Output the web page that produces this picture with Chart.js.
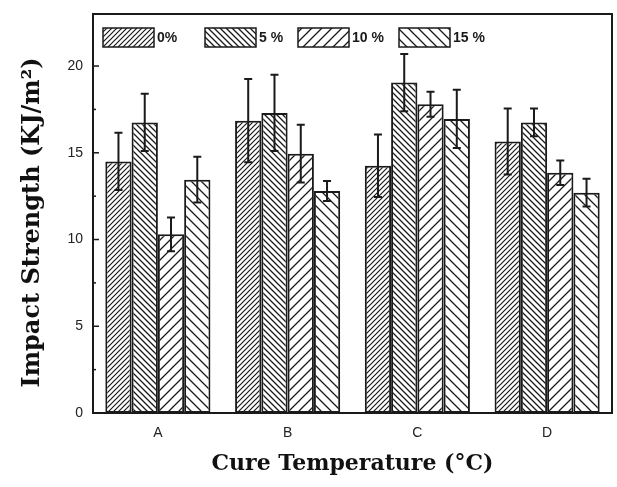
<!DOCTYPE html>
<html>
<head>
<meta charset="utf-8">
<script src="https://cdn.jsdelivr.net/npm/chart.js@4/dist/chart.umd.min.js"></script>
<style>
html,body{margin:0;padding:0;background:#fff;}
canvas{display:block;}
</style>
</head>
<body>
<canvas id="c" width="617" height="487"></canvas>
<script>
// ---- data ----
const categories = ['A', 'B', 'C', 'D'];
const seriesLabels = ['0%', '5 %', '10 %', '15 %'];
const values0  = [14.5, 16.85, 14.25, 15.65];
const values5  = [16.75, 17.3, 19.05, 16.75];
const values10 = [10.3, 14.95, 17.8, 13.85];
const values15 = [13.45, 12.8, 16.95, 12.7];
const err0  = [1.65, 2.4, 1.8, 1.9];
const err5  = [1.65, 2.2, 1.65, 0.8];
const err10 = [0.97, 1.67, 0.72, 0.7];
const err15 = [1.32, 0.58, 1.68, 0.8];
const yTicksMajor = [0, 5, 10, 15, 20];
const yTitle = 'Impact Strength (KJ/m²)';
const xTitle = 'Cure Temperature (°C)';

const seriesValues = [values0, values5, values10, values15];
const seriesErrors = [err0, err5, err10, err15];

function hatch(step, dir, lw) {
  const c = document.createElement('canvas');
  c.width = c.height = step;
  const x = c.getContext('2d');
  x.fillStyle = '#fff';
  x.fillRect(0, 0, step, step);
  x.strokeStyle = '#1a1a1a';
  x.lineWidth = lw;
  x.beginPath();
  if (dir === '/') {
    x.moveTo(0, step); x.lineTo(step, 0);
    x.moveTo(-2, 2); x.lineTo(2, -2);
    x.moveTo(step - 2, step + 2); x.lineTo(step + 2, step - 2);
  } else {
    x.moveTo(0, 0); x.lineTo(step, step);
    x.moveTo(-2, step - 2); x.lineTo(2, step + 2);
    x.moveTo(step - 2, -2); x.lineTo(step + 2, 2);
  }
  x.stroke();
  return document.getElementById('c').getContext('2d').createPattern(c, 'repeat');
}
const patterns = [hatch(5, '/', 1.2), hatch(6, '\\', 1.3), hatch(10, '/', 1.3), hatch(10, '\\', 1.3)];

const errorBars = {
  id: 'errorBars',
  afterDatasetsDraw(chart) {
    const ctx = chart.ctx, ys = chart.scales.y;
    ctx.save();
    ctx.strokeStyle = '#1a1a1a';
    ctx.lineWidth = 2;
    chart.data.datasets.forEach((ds, di) => {
      const meta = chart.getDatasetMeta(di);
      meta.data.forEach((bar, i) => {
        const v = ds.data[i], e = seriesErrors[di][i];
        const yt = ys.getPixelForValue(v + e), yb = ys.getPixelForValue(v - e);
        const x = bar.x;
        ctx.beginPath();
        ctx.moveTo(x, yt); ctx.lineTo(x, yb);
        ctx.moveTo(x - 4, yt); ctx.lineTo(x + 4, yt);
        ctx.moveTo(x - 4, yb); ctx.lineTo(x + 4, yb);
        ctx.stroke();
      });
    });
    ctx.restore();
  }
};

const legendOffsets = [10, 112, 205, 306];

const frame = {
  id: 'frame',
  afterDraw(chart) {
    const ctx = chart.ctx, a = chart.chartArea, ys = chart.scales.y;
    ctx.save();
    ctx.strokeStyle = '#1a1a1a';
    ctx.lineWidth = 2;
    ctx.strokeRect(a.left, a.top, a.right - a.left, a.bottom - a.top);
    // inward ticks
    ctx.lineWidth = 1.5;
    ys.ticks.forEach(t => {
      if (Math.abs(t.value / 2.5 - Math.round(t.value / 2.5)) > 1e-6) return;
      const y = ys.getPixelForValue(t.value);
      const len = yTicksMajor.includes(t.value) ? 6 : 3;
      ctx.beginPath();
      ctx.moveTo(a.left, y); ctx.lineTo(a.left + len, y);
      ctx.stroke();
    });
    // legend
    const y0 = a.top + 14, bw = 51, bh = 19;
    ctx.font = 'bold 14px "Liberation Sans", Arial, sans-serif';
    ctx.textBaseline = 'middle';
    chart.data.datasets.forEach((ds, di) => {
      const x = a.left + legendOffsets[di];
      ctx.fillStyle = ds.backgroundColor;
      ctx.fillRect(x, y0, bw, bh);
      ctx.lineWidth = 1.5;
      ctx.strokeStyle = '#1a1a1a';
      ctx.strokeRect(x, y0, bw, bh);
      ctx.fillStyle = '#1a1a1a';
      ctx.fillText(ds.label, x + bw + 3, y0 + bh / 2 + 1);
    });
    // y-axis title
    ctx.save();
    ctx.translate(33, (a.top + a.bottom) / 2 + 9);
    ctx.rotate(-Math.PI / 2);
    ctx.font = 'bold 24px "DejaVu Serif", serif';
    ctx.textAlign = 'center';
    ctx.textBaseline = 'middle';
    ctx.fillStyle = '#111';
    ctx.fillText(yTitle, 0, 0);
    ctx.restore();
    ctx.restore();
  }
};

new Chart(document.getElementById('c'), {
  type: 'bar',
  data: {
    labels: categories,
    datasets: seriesLabels.map((lab, i) => ({
      label: lab,
      data: seriesValues[i],
      backgroundColor: patterns[i],
      borderColor: '#1a1a1a',
      borderWidth: 2,
      borderSkipped: false,
      categoryPercentage: 0.81,
      barPercentage: 1.0
    }))
  },
  options: {
    responsive: false,
    animation: false,
    layout: { padding: { left: 0, right: 5, top: 14, bottom: 6 } },
    plugins: { legend: { display: false }, tooltip: { enabled: false } },
    scales: {
      x: {
        grid: { display: false, drawTicks: false },
        border: { display: false },
        ticks: { font: { family: '"Liberation Sans", Arial, sans-serif', size: 14 }, color: '#222', padding: 12 },
        title: { display: true, text: xTitle, color: '#111',
                 font: { family: '"DejaVu Serif", serif', weight: 'bold', size: 22 } },
        afterFit(s) { s.height = 68; s.paddingLeft = 0; s.paddingRight = 0; }
      },
      y: {
        min: 0, max: 23,
        grid: { display: false, drawTicks: false },
        border: { display: false },
        ticks: {
          stepSize: 2.5,
          font: { family: '"Liberation Sans", Arial, sans-serif', size: 14 }, color: '#222', padding: 10,
          callback: v => yTicksMajor.includes(v) ? String(v) : ''
        },
        title: { display: false },
        afterFit(s) { s.width = 93; s.paddingTop = 0; s.paddingBottom = 0; }
      }
    }
  },
  plugins: [errorBars, frame]
});
</script>
</body>
</html>
